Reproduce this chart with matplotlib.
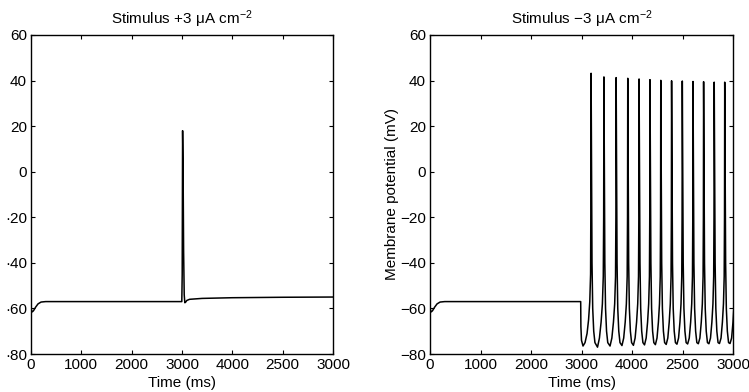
import matplotlib.pyplot as plt

plt.rcParams["font.family"] = ["Liberation Sans", "DejaVu Sans"]
plt.rcParams["mathtext.fontset"] = "custom"
plt.rcParams["mathtext.rm"] = "Liberation Sans"
plt.rcParams["mathtext.it"] = "Liberation Sans:italic"
plt.rcParams["mathtext.default"] = "regular"

# --------------------------------------------------------------------------- #
# data (axis units 0..3000)
# --------------------------------------------------------------------------- #
x_ticks = [0, 500, 1000, 1500, 2000, 2500, 3000]
x_ticklabels = ["0", "1000", "2000", "3000", "4000", "2500", "3000"]
y_ticks = [60, 40, 20, 0, -20, -40, -60, -80]
left_yticklabels = ["60", "40", "20", "0", "·20", "·40", "·60", "·80"]
right_yticklabels = ["60", "40", "20", "0", "−20", "−40", "−60", "−80"]

# +3 uA/cm2 : one spike then a slightly depolarised plateau
left_t = [0, 6, 13, 25, 45, 70, 100, 146, 1498, 1502, 1506, 1511, 1516,
          1522, 1528, 1535, 1548, 1575, 1700, 2000, 2500, 3000]
left_v = [-59.7, -61.0, -61.5, -61.0, -59.5, -58.0, -57.2, -57.0, -57.0, -45,
          18, 0, -35, -54, -57.5, -57.3, -56.5, -56, -55.6, -55.3, -55.1, -55.0]

# -3 uA/cm2 : rest, then repetitive firing once the current is switched
right_lead_t = [0, 6, 13, 25, 45, 70, 100, 146, 1492, 1494, 1500, 1515,
                1535, 1555, 1570, 1582, 1590, 1593]
right_lead_v = [-59.7, -61.0, -61.5, -61.0, -59.5, -58.0, -57.2, -57.0, -57.0,
                -68, -74, -76.5, -75, -71, -65, -57, -45, -10]
peak_ms = [1595, 1722, 1843, 1958, 2070, 2178, 2285, 2392, 2498, 2604,
           2709, 2814, 2918]
peak_mv = [43.2, 41.6, 41.3, 41.0, 40.7, 40.4, 40.1, 39.9, 39.8, 39.6,
           39.5, 39.3, 39.3]
trough_mv = [-77.0, -76.5, -76.3, -76.2, -76.0, -75.9, -75.8, -75.7, -75.6,
             -75.5, -75.5, -75.4, -75.4]
# one spike cycle: downstroke (ms after peak) and upstroke (fraction of ISI)
fall_dt = [4, 9, 16, 26, 38]
fall_mv = [5, -40, -60, -70, -75]
rise_frac = [0.65, 0.78, 0.88, 0.95, 0.98]
rise_mv = [-73, -66, -58, -46, -20]

right_t = list(right_lead_t)
right_v = list(right_lead_v)
for i, (tp, vp, vt) in enumerate(zip(peak_ms, peak_mv, trough_mv)):
    isi = (peak_ms[i + 1] if i + 1 < len(peak_ms) else tp + 105) - tp
    right_t.append(tp)
    right_v.append(vp)
    right_t += [tp + d for d in fall_dt]
    right_v += fall_mv
    right_t.append(tp + 0.5 * isi)
    right_v.append(vt)
    right_t += [tp + f * isi for f in rise_frac]
    right_v += rise_mv

# --------------------------------------------------------------------------- #
# plotting
# --------------------------------------------------------------------------- #
fig = plt.figure(figsize=(7.49, 3.92), dpi=100)
ax1 = fig.add_axes([31 / 749, 1 - 354 / 392, 302 / 749, 319 / 392])
ax2 = fig.add_axes([430 / 749, 1 - 354 / 392, 303 / 749, 319 / 392])

panels = [
    (ax1, left_t, left_v, left_yticklabels, "Stimulus +3 μA cm$^{−2}$", None),
    (ax2, right_t, right_v, right_yticklabels, "Stimulus −3 μA cm$^{−2}$",
     "Membrane potential (mV)"),
]

for ax, t, v, ylabels, title, ylabel in panels:
    ax.plot(t, v, color="black", lw=1.1)
    ax.set_xlim(0, 3000)
    ax.set_ylim(-80, 60)
    ax.set_xticks(x_ticks)
    ax.set_xticklabels(x_ticklabels)
    ax.set_yticks(y_ticks)
    ax.set_yticklabels(ylabels)
    ax.tick_params(direction="in", length=3, width=0.8, top=True, right=True,
                   labelsize=11, pad=3, colors="black")
    for s in ax.spines.values():
        s.set_linewidth(1.0)
    ax.set_xlabel("Time (ms)", fontsize=11, labelpad=3)
    ax.set_title(title, fontsize=11, pad=8)
    if ylabel:
        ax.set_ylabel(ylabel, fontsize=11, labelpad=1)

fig.savefig("out.png", dpi=100)
